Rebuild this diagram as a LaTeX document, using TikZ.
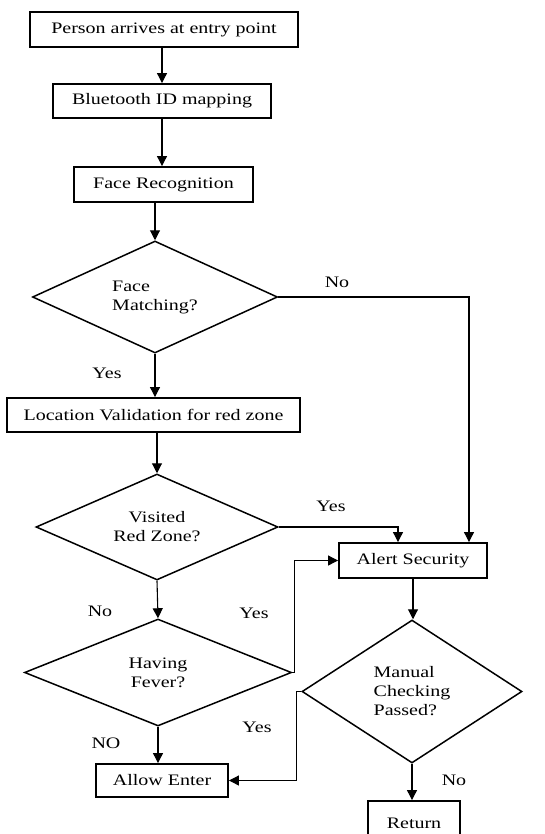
\documentclass[tikz,border=0pt]{standalone}
\usepackage{fontspec}
\setmainfont{Liberation Serif}[FakeStretch=1.25]
\usetikzlibrary{shapes.geometric,arrows.meta,calc}
\begin{document}
\begin{tikzpicture}[x=1pt,y=-1pt,
  every node/.style={font=\fontsize{16}{19}\selectfont},
  procbox/.style={draw, line width=1.9pt, inner sep=0pt, anchor=center},
  decide/.style={draw, shape=diamond, line width=1.5pt, inner sep=0pt, aspect=2.2},
  conn/.style={line width=1.1pt},
  arr/.style={conn, -{Triangle[length=10pt,width=10pt]}},
  lbl/.style={inner sep=0pt, anchor=base}]
\useasboundingbox (0,0) rectangle (544,834);
\clip (0,0) rectangle (544,834);
\fill[white] (0,0) rectangle (544,834);

\node[procbox, minimum width=268pt, minimum height=35pt] (b1) at (164,29.5) {Person arrives at entry point};
\node[procbox, minimum width=218pt, minimum height=34pt] (b2) at (162,101) {Bluetooth ID mapping};
\node[procbox, minimum width=179pt, minimum height=35pt] (b3) at (163.5,184.5) {Face Recognition};
\node[decide, minimum width=245pt, minimum height=112pt, align=left] (d1) at (155,297) {Face\\Matching?};
\node[procbox, minimum width=293pt, minimum height=34pt] (b4) at (153.5,415) {Location Validation for red zone};
\node[decide, minimum width=242pt, minimum height=106pt, align=center] (d2) at (157,527) {Visited\\Red Zone?};
\node[procbox, minimum width=148pt, minimum height=35pt] (alert) at (413,560.5) {Alert Security};
\node[decide, minimum width=267pt, minimum height=107pt, align=center] (d3) at (158,672.5) {Having\\Fever?};
\node[decide, minimum width=220pt, minimum height=143pt, align=left] (d4) at (412,691.5) {Manual\\Checking\\Passed?};
\node[procbox, minimum width=132pt, minimum height=33pt] (allow) at (162,780.5) {Allow Enter};
\node[procbox, minimum width=92pt, minimum height=44pt, text depth=0pt] (ret) at (414,823) {Return};

\draw[arr] (b1.south -| b2.north) -- (b2.north);
\draw[arr] (b2.south) -- (b2.south |- b3.north);
\draw[arr] (b3.south -| d1.north) -- (d1.north);
\draw[arr] (d1.south) -- (d1.south |- b4.north);
\draw[arr] (b4.south -| d2.north) -- (d2.north);
\draw[arr] (d2.south) -- (d3.north);
\draw[arr] (d3.south) -- (d3.south |- allow.north);
\draw[arr] (d1.east) -| ([xshift=56pt]alert.north);
\draw[arr] (d2.east) -| ([xshift=-15pt]alert.north);
\draw[arr] (d3.east) -- ++(2pt,0) |- (alert.west);
\draw[arr] (alert.south) -- (alert.south |- d4.north);
\draw[arr] (d4.west) -- ++(-5pt,0) |- (allow.east);
\draw[arr] (d4.south) -- (d4.south |- ret.north);

\node[lbl] (l1) at (337,287) {No};
\node[lbl] (l2) at (107,378) {Yes};
\node[lbl] (l3) at (331,511) {Yes};
\node[lbl] (l4) at (100,616) {No};
\node[lbl] (l5) at (254,618) {Yes};
\node[lbl] (l6) at (257,732) {Yes};
\node[lbl] (l7) at (106,748) {NO};
\node[lbl] (l8) at (454,785) {No};
\end{tikzpicture}
\end{document}
